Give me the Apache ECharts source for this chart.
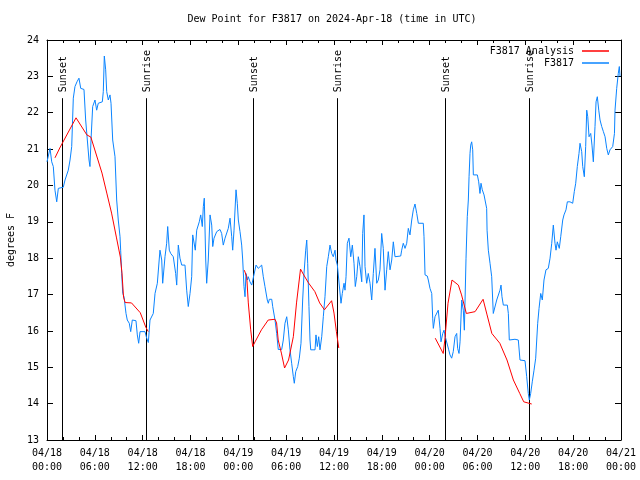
<!DOCTYPE html>
<html><head><meta charset="utf-8">
<script src="https://cdn.jsdelivr.net/npm/echarts@6/dist/echarts.min.js"></script>
<style>html,body{margin:0;padding:0;background:#fff}#c{width:640px;height:480px}</style>
</head><body><div id="c"></div>
<script>
// ---- data (hours since 2024-04-18 00:00 UTC, dew point in °F) ----
const xTickLabels = ['04/18\n00:00','04/18\n06:00','04/18\n12:00','04/18\n18:00','04/19\n00:00','04/19\n06:00','04/19\n12:00','04/19\n18:00','04/20\n00:00','04/20\n06:00','04/20\n12:00','04/20\n18:00','04/21\n00:00'];
const yTicks = [13,14,15,16,17,18,19,20,21,22,23,24];

const analysisHours1 = [1.0,1.6,3.64,5.0,5.5,6.9,7.5,8.1,8.7,9.2,9.4,9.6,9.8,10.6,11.7,12.4,12.7];
const analysisVals1  = [20.76,21.03,21.86,21.39,21.33,20.34,19.79,19.24,18.58,18.03,17.6,16.93,16.78,16.77,16.5,16.1,15.98];
const analysisHours2 = [24.75,25.05,25.25,25.55,25.8,26.1,26.9,27.75,28.6,28.8,29.0,29.4,29.8,30.3,30.9,31.3,31.8,32.2,32.8,33.6,34.2,34.8,35.7,36.0,36.3,36.6];
const analysisVals2  = [17.67,17.49,16.77,16.03,15.57,15.7,16.03,16.3,16.32,16.22,15.75,15.39,14.98,15.2,15.84,16.77,17.7,17.54,17.32,17.08,16.77,16.58,16.83,16.49,15.98,15.53];
const analysisHours3 = [48.7,49.7,49.9,50.3,50.8,51.6,52.0,52.6,53.7,54.7,55.2,55.8,56.8,57.7,58.5,59.3,59.8,60.8];
const analysisVals3  = [15.8,15.38,15.75,16.76,17.4,17.26,16.99,16.48,16.53,16.87,16.44,15.93,15.66,15.2,14.65,14.28,14.05,13.99];

const stationHours = [0.0,0.38,0.59,0.79,1.0,1.22,1.42,2.04,2.26,2.67,2.89,3.1,3.3,3.51,3.76,4.01,4.23,4.64,4.85,5.06,5.27,5.39,5.52,5.73,6.02,6.23,6.43,6.94,7.06,7.19,7.36,7.49,7.69,7.9,8.03,8.24,8.53,8.74,8.94,9.16,9.24,9.37,9.5,9.66,9.91,10.07,10.32,10.5,10.7,11.16,11.33,11.5,11.67,12.29,12.51,12.71,12.92,13.33,13.55,13.84,14.17,14.39,14.51,14.8,15.01,15.14,15.34,15.52,15.84,16.14,16.27,16.47,16.68,16.9,17.31,17.52,17.72,17.94,18.15,18.28,18.48,18.6,18.78,19.1,19.28,19.48,19.61,19.73,19.91,20.03,20.23,20.45,20.66,20.79,20.95,21.29,21.7,21.91,22.11,22.33,22.54,22.74,22.96,23.17,23.29,23.46,23.71,23.87,24.0,24.21,24.42,24.55,24.71,24.84,24.96,25.13,25.25,25.46,25.68,25.88,26.22,26.5,26.93,27.13,27.34,27.63,27.76,27.89,28.19,28.31,28.6,28.81,29.01,29.44,29.64,29.85,30.07,30.27,30.48,30.69,30.9,31.02,31.2,31.45,31.65,31.86,32.07,32.24,32.45,32.58,32.7,32.86,32.99,33.08,33.62,33.74,33.91,34.08,34.24,34.46,34.66,34.87,35.09,35.29,35.5,35.71,35.91,36.13,36.25,36.42,36.67,36.88,37.04,37.26,37.38,37.51,37.67,37.88,38.1,38.3,38.51,38.67,38.85,39.05,39.26,39.48,39.6,39.76,39.89,40.1,40.3,40.52,40.73,40.93,41.14,41.36,41.56,41.77,41.98,42.18,42.4,42.61,42.81,43.03,43.24,43.44,43.65,44.37,44.49,44.69,44.91,45.12,45.32,45.53,45.75,45.95,46.16,46.38,46.58,47.2,47.29,47.42,47.7,47.83,48.04,48.26,48.38,48.46,48.67,48.88,49.08,49.21,49.3,49.42,49.64,49.8,49.96,50.21,50.39,50.55,50.76,50.96,51.18,51.39,51.51,51.68,51.81,52.02,52.22,52.35,52.56,52.72,52.85,52.94,53.06,53.15,53.27,53.4,53.48,53.98,54.15,54.31,54.44,54.6,54.82,55.03,55.15,55.2,55.36,55.57,55.78,55.98,56.19,56.41,56.61,56.82,56.95,57.07,57.24,57.74,57.87,57.99,58.7,59.12,59.33,59.96,60.17,60.37,60.5,60.67,60.87,61.09,61.3,61.43,61.55,61.72,61.93,62.13,62.34,62.59,62.88,63.1,63.31,63.51,63.72,63.85,64.01,64.26,64.44,64.69,64.85,65.1,65.27,65.6,65.94,66.14,66.32,66.52,66.73,66.86,67.07,67.2,67.4,67.57,67.7,67.83,67.99,68.2,68.36,68.53,68.74,68.87,69.03,69.21,69.37,69.58,69.79,70.0,70.21,70.41,70.62,70.96,71.18,71.25,71.46,71.66,71.79,71.88];
const stationVals = [20.65,21.02,20.65,20.52,19.87,19.55,19.92,19.95,20.15,20.42,20.7,21.07,22.4,22.72,22.85,22.95,22.67,22.64,21.8,21.25,20.7,20.52,21.25,22.17,22.35,22.07,22.26,22.3,22.58,23.56,23.18,22.58,22.35,22.49,22.26,21.25,20.79,19.6,19.05,18.59,18.22,17.58,17.03,16.94,16.48,16.3,16.21,15.98,16.3,16.28,15.89,15.66,15.98,15.98,15.8,15.68,16.3,16.48,17.03,17.31,18.22,17.95,17.31,18.04,18.41,18.87,18.22,18.13,18.04,17.58,17.26,18.36,18.0,17.81,17.81,17.12,16.67,17.03,17.49,18.64,18.64,18.22,18.77,19.0,19.19,18.87,19.42,19.65,17.95,17.31,17.95,19.19,18.91,18.32,18.55,18.73,18.79,18.68,18.36,18.55,18.55,18.82,19.1,18.59,18.22,18.77,19.88,19.51,19.05,18.73,18.36,17.95,17.22,16.94,17.58,17.4,17.49,17.35,17.26,17.31,17.81,17.72,17.81,17.49,17.22,16.85,16.76,16.87,16.87,16.67,16.3,15.93,15.49,15.49,15.75,16.21,16.39,16.03,15.48,15.11,14.74,14.56,14.88,15.02,15.25,15.66,16.85,17.58,18.22,18.5,17.86,16.67,15.75,15.48,15.48,15.89,15.57,15.84,15.48,15.84,16.39,16.94,17.77,18.04,18.36,18.13,18.04,18.22,17.95,17.81,17.77,16.76,17.03,17.31,17.12,17.49,18.41,18.55,18.04,18.36,17.86,17.22,17.49,18.04,17.77,17.35,18.68,19.19,17.77,17.31,17.58,17.31,16.85,17.58,18.27,17.31,17.4,17.68,18.68,18.27,17.12,17.68,18.18,17.68,17.95,18.45,18.04,18.06,18.22,18.41,18.27,18.41,18.82,18.64,19.05,19.33,19.49,19.23,18.96,18.96,18.59,17.54,17.51,17.4,17.17,17.03,16.35,16.07,16.39,16.44,16.57,16.62,16.07,15.7,15.93,16.02,15.84,15.84,15.48,15.34,15.25,15.43,15.84,15.93,15.52,15.38,15.7,16.85,16.57,16.02,18.0,19.14,19.6,20.24,20.88,21.11,21.2,20.98,20.29,20.29,20.1,19.78,20.06,19.88,19.74,19.69,19.37,18.77,18.22,17.86,17.49,16.48,16.48,16.85,16.9,17.12,17.26,16.94,16.71,16.71,16.48,15.75,15.77,15.75,15.2,15.18,14.74,14.28,14.1,14.28,14.6,14.92,15.25,15.75,16.21,16.62,17.03,16.85,17.4,17.68,17.72,18.0,18.41,18.91,18.41,18.22,18.45,18.27,18.59,19.05,19.19,19.33,19.55,19.55,19.51,19.83,20.06,20.52,20.88,21.16,20.93,20.52,20.24,21.07,22.07,21.89,21.34,21.43,21.11,20.65,21.62,22.3,22.44,22.07,21.8,21.62,21.48,21.34,21.02,20.84,20.98,21.07,21.43,22.07,22.67,23.08,23.27,23.0];

const sunHours  = [1.82, 12.48, 25.88, 36.41, 49.92, 60.5];
const sunLabels = ['Sunset','Sunrise','Sunset','Sunrise','Sunset','Sunrise'];

// ---- build ----
const FONT = '"DejaVu Sans Mono", "Liberation Mono", monospace';
const zip = (h, v) => h.map((x, i) => [x, v[i]]);
const analysisData = [].concat(zip(analysisHours1, analysisVals1), [[null, null]],
                               zip(analysisHours2, analysisVals2), [[null, null]],
                               zip(analysisHours3, analysisVals3));
const stationData = zip(stationHours, stationVals);
const LINE_TOP = 22.4;

const chart = echarts.init(document.getElementById('c'), null, {renderer: 'canvas'});
const baseX = {
  type: 'value', min: 0, max: 72, interval: 6,
  axisLine: {show: true, onZero: false, lineStyle: {color: '#000', width: 1}},
  axisTick: {show: true, inside: true, length: 5, lineStyle: {color: '#000', width: 1}},
  minorTick: {show: true, splitNumber: 3, length: 3, lineStyle: {color: '#000', width: 1}},
  splitLine: {show: false}, minorSplitLine: {show: false}
};
const baseY = {
  type: 'value', min: 13, max: 24, interval: 1,
  axisLine: {show: true, onZero: false, lineStyle: {color: '#000', width: 1}},
  axisTick: {show: true, inside: true, length: 6, lineStyle: {color: '#000', width: 1}},
  splitLine: {show: false}
};
chart.setOption({
  animation: false,
  backgroundColor: '#fff',
  title: {
    text: 'Dew Point for F3817 on 2024-Apr-18 (time in UTC)',
    left: 332, top: 14, textAlign: 'center', padding: 0,
    textStyle: {fontFamily: FONT, fontSize: 10, fontWeight: 'normal', color: '#000'}
  },
  grid: {left: 47, right: 19, top: 40, bottom: 40, containLabel: false, outerBoundsMode: 'none'},
  legend: [
    {data: ['F3817 Analysis'], right: 31, top: 46, orient: 'vertical', align: 'right', padding: 0,
     itemWidth: 27, itemHeight: 1.5, icon: 'rect', selectedMode: false,
     textStyle: {fontFamily: FONT, fontSize: 10, color: '#000', padding: [0, 3, 0, 0]}},
    {data: ['F3817'], right: 31, top: 58, orient: 'vertical', align: 'right', padding: 0,
     itemWidth: 27, itemHeight: 1.5, icon: 'rect', selectedMode: false,
     textStyle: {fontFamily: FONT, fontSize: 10, color: '#000', padding: [0, 3, 0, 0]}}
  ],
  xAxis: [
    Object.assign({}, baseX, {position: 'bottom',
      axisLabel: {show: true, margin: 6, fontFamily: FONT, fontSize: 10, color: '#000', lineHeight: 14,
        formatter: v => xTickLabels[Math.round(v / 6)] || ''}}),
    Object.assign({}, baseX, {position: 'top', axisLabel: {show: false}})
  ],
  yAxis: [
    Object.assign({}, baseY, {position: 'left', name: 'degrees F', nameLocation: 'middle', nameGap: 31,
      nameTextStyle: {fontFamily: FONT, fontSize: 10, color: '#000'},
      axisLabel: {show: true, margin: 8, fontFamily: FONT, fontSize: 10, color: '#000',
        formatter: v => (yTicks.indexOf(v) >= 0 ? String(v) : '')}}),
    Object.assign({}, baseY, {position: 'right', axisLabel: {show: false}})
  ],
  series: [
    {
      type: 'custom', name: 'sun', xAxisIndex: 0, yAxisIndex: 0, silent: true,
      data: sunHours.map(h => [h]),
      encode: {x: 0},
      renderItem: function (params, api) {
        const h = api.value(0);
        const p0 = api.coord([h, 13]);
        const p1 = api.coord([h, LINE_TOP]);
        const x = Math.round(p0[0]) + 0.5;
        return {type: 'group', children: [
          {type: 'line', shape: {x1: x, y1: p0[1], x2: x, y2: p1[1]}, style: {stroke: '#000', lineWidth: 1}},
          {type: 'text', x: x + 1, y: p1[1] - 6, rotation: Math.PI / 2,
           style: {text: sunLabels[params.dataIndex], textAlign: 'left', textVerticalAlign: 'middle',
                   font: '10px ' + FONT, fill: '#000'}}
        ]};
      },
      z: 1
    },
    {
      type: 'line', name: 'F3817 Analysis', data: analysisData, showSymbol: false, symbol: 'none',
      connectNulls: false, lineStyle: {color: '#ff0000', width: 1}, itemStyle: {color: '#ff0000'}, z: 3
    },
    {
      type: 'line', name: 'F3817', data: stationData, showSymbol: false, symbol: 'none',
      lineStyle: {color: '#0a84ff', width: 1}, itemStyle: {color: '#0a84ff'}, z: 2
    }
  ]
});
</script>
</body></html>
